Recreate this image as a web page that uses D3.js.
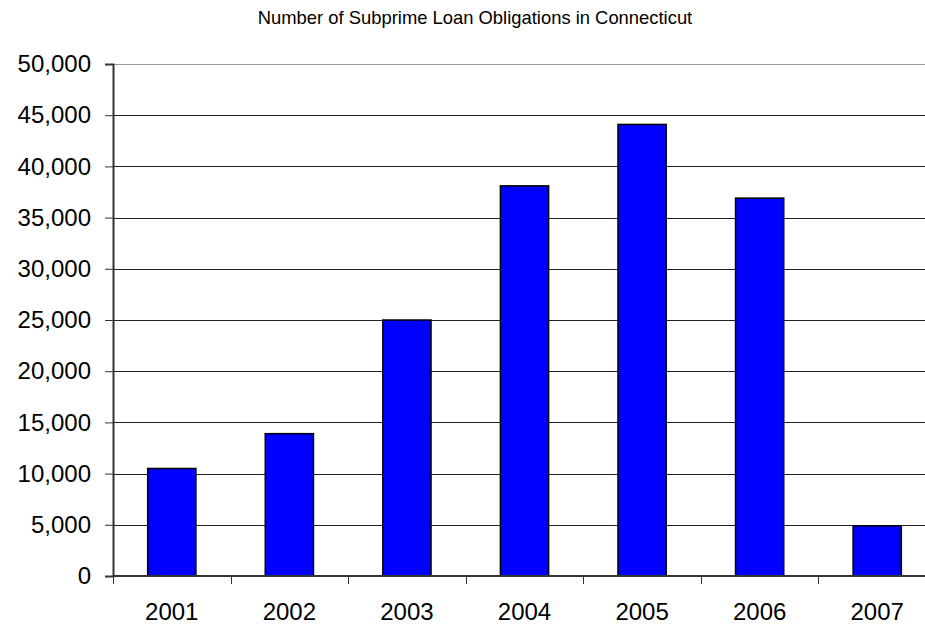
<!DOCTYPE html>
<html>
<head>
<meta charset="utf-8">
<script src="https://cdn.jsdelivr.net/npm/d3@7"></script>
<style>
  body { margin: 0; background: #fff; }
  text { font-family: "Liberation Sans", Arial, sans-serif; fill: #000; }
</style>
</head>
<body>
<svg id="chart"></svg>
<script>
var years = ["2001", "2002", "2003", "2004", "2005", "2006", "2007"]
var loans = [10500, 13900, 25000, 38100, 44100, 36900, 4900]
var yTicks = [0, 5000, 10000, 15000, 20000, 25000, 30000, 35000, 40000, 45000, 50000]
var title = "Number of Subprime Loan Obligations in Connecticut"

var width = 925, height = 626
var margin = { top: 64, left: 113, right: -11, bottom: 50 }

var svg = d3.select("#chart")
    .attr("width", width)
    .attr("height", height)

var x = d3.scaleBand()
    .domain(years)
    .range([margin.left, width - margin.right])
    .padding(0)

var y = d3.scaleLinear()
    .domain([0, 50000])
    .range([height - margin.bottom, margin.top])

// title
svg.append("text")
    .attr("x", 475)
    .attr("y", 24)
    .attr("text-anchor", "middle")
    .style("font-size", "18.4px")
    .text(title)

// gridlines
svg.append("g")
    .selectAll("line")
    .data(yTicks.filter(d => d > 0))
    .join("line")
    .attr("x1", margin.left)
    .attr("x2", width)
    .attr("y1", d => Math.round(y(d)) + 0.5)
    .attr("y2", d => Math.round(y(d)) + 0.5)
    .attr("stroke", d => d == 50000 ? "#999" : "#222")
    .attr("stroke-width", 1)

// y axis
var yAxis = svg.append("g")
    .attr("transform", "translate(" + margin.left + ",0)")
    .call(d3.axisLeft(y).tickValues(yTicks).tickFormat(d3.format(",")).tickSize(8).tickPadding(14))
yAxis.select(".domain").attr("stroke", "#333").attr("stroke-width", 2)
yAxis.selectAll(".tick line").attr("stroke", "#333")
yAxis.selectAll("text")
    .style("font-size", "24px")
    .attr("font-family", null)

// bars
var barW = x.bandwidth() * 0.41
svg.append("g")
    .selectAll("rect")
    .data(loans)
    .join("rect")
    .attr("x", (d, i) => x(years[i]) + (x.bandwidth() - barW) / 2)
    .attr("y", d => y(d))
    .attr("width", barW)
    .attr("height", d => y(0) - y(d))
    .attr("fill", "#0000ff")
    .attr("stroke", "#000")
    .attr("stroke-width", 1.5)

// x axis line
svg.append("line")
    .attr("x1", margin.left)
    .attr("x2", width)
    .attr("y1", y(0))
    .attr("y2", y(0))
    .attr("stroke", "#333")
    .attr("stroke-width", 2)

// boundary ticks
svg.append("g")
    .selectAll("line")
    .data(years)
    .join("line")
    .attr("x1", d => Math.round(x(d)) + 0.5)
    .attr("x2", d => Math.round(x(d)) + 0.5)
    .attr("y1", y(0))
    .attr("y2", y(0) + 8)
    .attr("stroke", "#333")

// year labels
svg.append("g")
    .selectAll("text")
    .data(years)
    .join("text")
    .attr("x", d => x(d) + x.bandwidth() / 2)
    .attr("y", 620)
    .attr("text-anchor", "middle")
    .style("font-size", "24px")
    .text(d => d)
</script>
</body>
</html>
